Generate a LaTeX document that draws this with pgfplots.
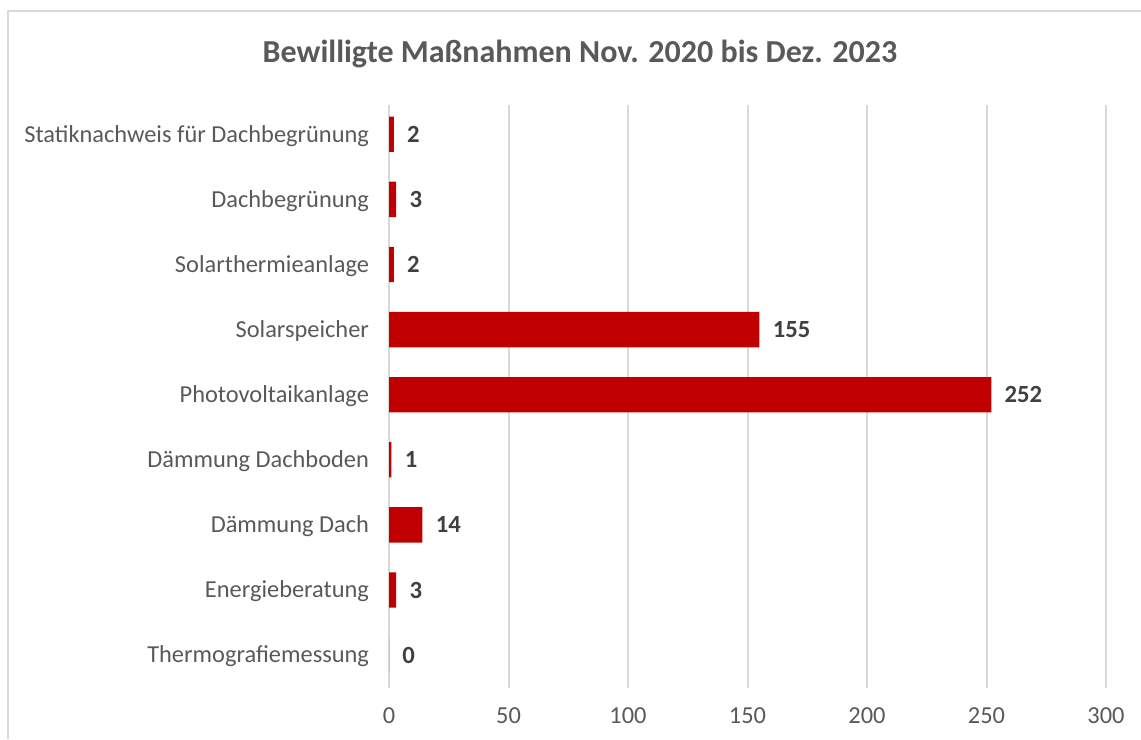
\documentclass[border=0pt]{standalone}
\usepackage{pgfplots}
\pgfplotsset{compat=1.18}
\usepackage{fontspec}
\setmainfont{Carlito}
\definecolor{barred}{HTML}{C00000}
\definecolor{gridgray}{HTML}{D9D9D9}
\definecolor{labelgray}{HTML}{595959}
\definecolor{valgray}{HTML}{404040}
\begin{document}
\begin{tikzpicture}
\useasboundingbox (0,0) rectangle (855.75pt,554.25pt);
\draw[gridgray, line width=1.5pt] (6pt,0) -- (6pt,546pt) -- (855.75pt,546pt);
\node[font=\fontsize{24}{28}\selectfont\bfseries, text=labelgray] at (435pt,514pt) {Bewilligte Maßnahmen Nov. 2020 bis Dez. 2023};
\begin{axis}[
    at={(291.75pt,38.5pt)}, anchor=south west,
    scale only axis,
    width=537.75pt, height=437pt,
    xbar, bar width=26.5pt,
    xmin=0, xmax=300,
    ymin=-0.5, ymax=8.45,
    xtick={0,50,...,300},
    ytick={0,...,8},
    yticklabels={Thermografiemessung, Energieberatung, Dämmung Dach, Dämmung Dachboden, Photovoltaikanlage, Solarspeicher, Solarthermieanlage, Dachbegrünung, Statiknachweis für Dachbegrünung},
    axis line style={draw=none},
    major tick length=0pt,
    xmajorgrids, grid style={gridgray, line width=1.5pt},
    tick label style={font=\fontsize{18.3}{22}\selectfont, text=labelgray},
    /pgf/number format/assume math mode=true,
    xticklabel style={yshift=-11.5pt},
    yticklabel style={xshift=-11.5pt, yshift=-1pt},
    nodes near coords,
    every node near coord/.append style={font=\fontsize{18.5}{22}\selectfont\bfseries, text=valgray, xshift=6.5pt},
    clip=false,
]
\addplot[fill=barred, draw=none] coordinates {
    (0,0) (3,1) (14,2) (1,3) (252,4) (155,5) (2,6) (3,7) (2,8)
};
\end{axis}
\end{tikzpicture}
\end{document}
